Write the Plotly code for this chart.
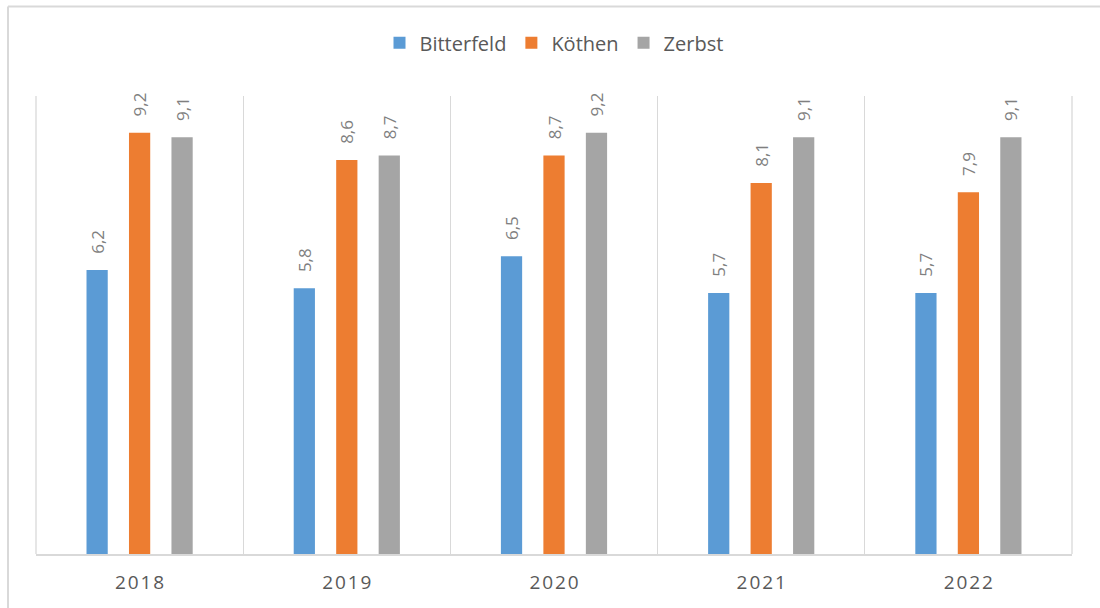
import plotly.graph_objects as go

years = ["2018", "2019", "2020", "2021", "2022"]
bitterfeld = [6.2, 5.8, 6.5, 5.7, 5.7]
koethen = [9.2, 8.6, 8.7, 8.1, 7.9]
zerbst = [9.1, 8.7, 9.2, 9.1, 9.1]

series = [
    ("Bitterfeld", bitterfeld, "#5b9bd5"),
    ("Köthen", koethen, "#ed7d31"),
    ("Zerbst", zerbst, "#a5a5a5"),
]

FONT = "Open Sans, Liberation Sans, sans-serif"
pad = "\u00a0\u00a0\u00a0"

fig = go.Figure()
for name, vals, color in series:
    fig.add_trace(go.Bar(
        name=name, x=years, y=vals,
        marker=dict(color=color, line=dict(width=0)),
        text=[pad + f"{v:.1f}".replace(".", ",") for v in vals],
        textposition="outside", textangle=-90, constraintext="none",
        textfont=dict(family=FONT, size=17, color="#7f7f7f"),
        cliponaxis=False,
    ))

spaced = ["\u200a".join(y) for y in years]

lc = "#d9d9d9"
fig.update_layout(
    width=1100, height=608,
    margin=dict(l=36, r=28, t=96, b=54),
    paper_bgcolor="white", plot_bgcolor="white",
    barmode="group", bargap=0.385, bargroupgap=0.5,
    font=dict(family=FONT, color="#595959"),
    uniformtext=dict(mode=False),
    legend=dict(orientation="h", x=0.5, xanchor="center", y=1.116, yanchor="middle",
                font=dict(family=FONT, size=20, color="#595959"),
                itemwidth=30, traceorder="normal"),
    xaxis=dict(type="category", tickson="boundaries", showgrid=True,
               gridcolor=lc, gridwidth=1.3, ticks="",
               tickvals=years, ticktext=spaced, ticklabelstandoff=10,
               showline=True, linecolor=lc, linewidth=1.5,
               tickfont=dict(family=FONT, size=19, color="#595959")),
    yaxis=dict(range=[0, 10], showgrid=False, showticklabels=False,
               zeroline=False, showline=False, ticks=""),
    shapes=[
        dict(type="line", xref="paper", yref="paper", x0=0, x1=0, y0=0, y1=1,
             line=dict(color=lc, width=1.3), layer="below"),
        dict(type="line", xref="paper", yref="paper", x0=1, x1=1, y0=0, y1=1,
             line=dict(color=lc, width=1.3), layer="below"),
        dict(type="line", xref="paper", yref="paper",
             x0=(8 - 36) / 1036, x1=(8 - 36) / 1036,
             y0=(554 - 620) / 458, y1=(554 - 6.5) / 458,
             line=dict(color=lc, width=2)),
        dict(type="line", xref="paper", yref="paper",
             x0=(8 - 36) / 1036, x1=(1110 - 36) / 1036,
             y0=(554 - 6.5) / 458, y1=(554 - 6.5) / 458,
             line=dict(color=lc, width=2)),
    ],
)

fig.write_html("out.html")
